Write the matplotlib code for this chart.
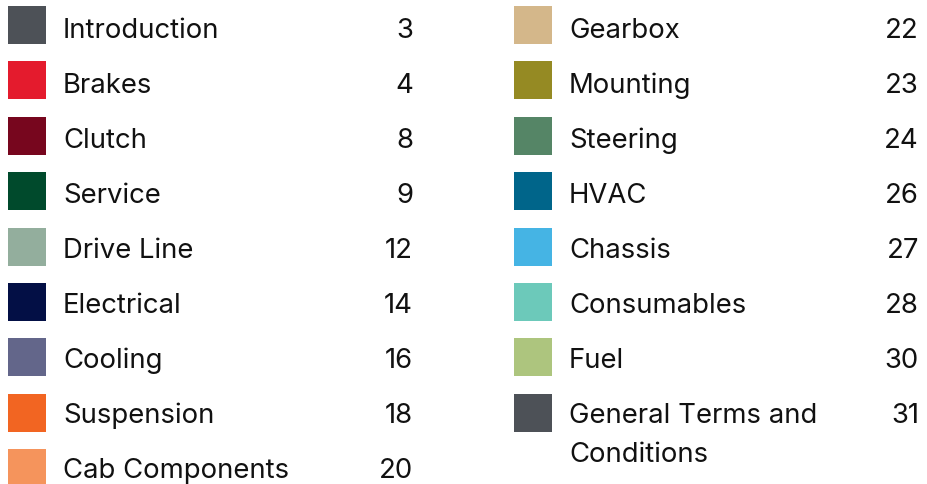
import matplotlib
matplotlib.use("Agg")
import matplotlib.pyplot as plt
from matplotlib.patches import Rectangle

left_titles = ["Introduction", "Brakes", "Clutch", "Service", "Drive Line",
               "Electrical", "Cooling", "Suspension", "Cab Components"]
left_pages = [3, 4, 8, 9, 12, 14, 16, 18, 20]
left_colors = ["#4d5157", "#e41b2d", "#77061e", "#004a2c", "#93ae9d",
               "#030f45", "#63668a", "#f26522", "#f5945c"]

right_titles = ["Gearbox", "Mounting", "Steering", "HVAC", "Chassis",
                "Consumables", "Fuel", "General Terms and\nConditions"]
right_pages = [22, 23, 24, 26, 27, 28, 30, 31]
right_colors = ["#d4b78a", "#958a23", "#558566", "#00658a", "#45b4e4",
                "#6cc9ba", "#adc57e", "#4d5157"]

W, H = 927, 484
fig = plt.figure(figsize=(W / 100, H / 100), dpi=100)
ax = fig.add_axes([0, 0, 1, 1])
ax.set_xlim(0, W)
ax.set_ylim(H, 0)
ax.axis("off")

FONT = "Inter"
FS = 19.8
TXT = "#111111"
SQ = 38
PITCH_SQ = 55.4
PITCH_TX = 55.0


def column(titles, pages, colors, x_sq, x_txt, x_num):
    for i, (t, p, c) in enumerate(zip(titles, pages, colors)):
        top = 6 + PITCH_SQ * i
        ax.add_patch(Rectangle((x_sq, top), SQ, SQ, facecolor=c, edgecolor="none"))
        base = 38.3 + PITCH_TX * i
        lines = t.split("\n")
        for j, ln in enumerate(lines):
            ax.text(x_txt, base + 38.4 * j, ln, fontsize=FS, family=FONT,
                    color=TXT, va="baseline", ha="left")
        ax.text(x_num, base, str(p), fontsize=FS, family=FONT, color=TXT,
                va="baseline", ha="right")


column(left_titles, left_pages, left_colors, 8, 63, 413)
column(right_titles, right_pages, right_colors, 514, 569, 919)

fig.savefig("out.png", dpi=100, facecolor="white")
